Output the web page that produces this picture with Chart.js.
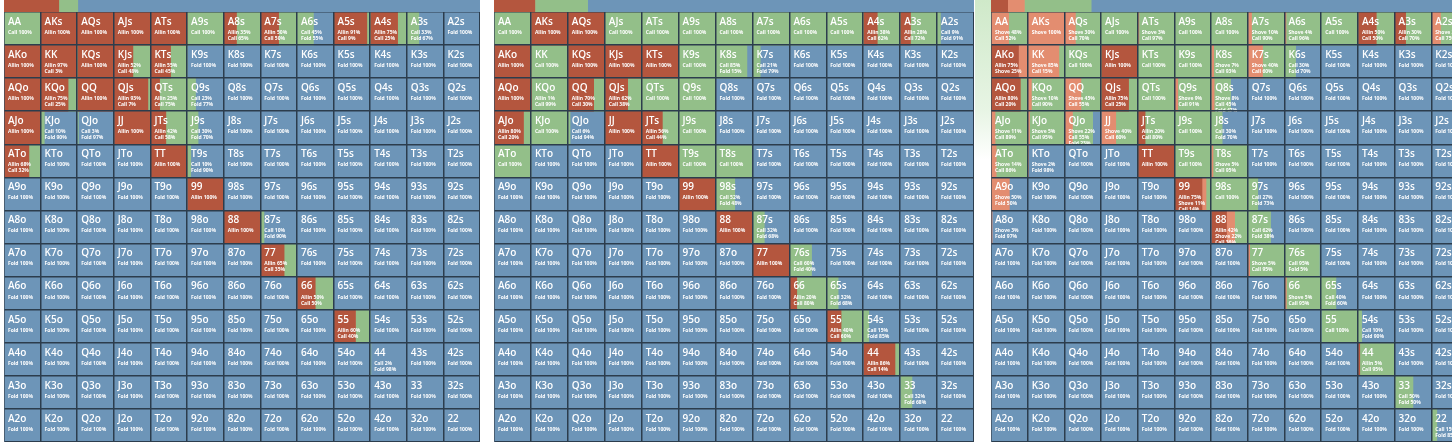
<!DOCTYPE html>
<html><head><meta charset="utf-8">
<script src="https://cdn.jsdelivr.net/npm/chart.js@4/dist/chart.umd.min.js"></script>
<style>
body{margin:0;background:#fff;width:1452px;height:442px;overflow:hidden;position:relative;font-family:"Open Sans",sans-serif}
.p{position:absolute;overflow:hidden}
</style></head><body>
<div class="p" style="left:4px;top:0;width:476px;height:12px"><canvas id="s1"></canvas></div>
<div class="p" style="left:4px;top:12px;width:476px;height:430px"><canvas id="c1"></canvas></div>
<div class="p" style="left:494px;top:0;width:480px;height:12px"><canvas id="s2"></canvas></div>
<div class="p" style="left:494px;top:12px;width:480px;height:430px"><canvas id="c2"></canvas></div>
<div class="p" style="left:975px;top:0;width:16px;height:160px;background:linear-gradient(#cfe9c9,#e8f5e5 70%,#fff)"></div>
<div class="p" style="left:991px;top:0;width:461px;height:12px"><div style="width:477px;height:12px"><canvas id="s3"></canvas></div></div>
<div class="p" style="left:991px;top:12px;width:461px;height:430px"><div style="width:477px;height:430px"><canvas id="c3"></canvas></div></div>
<script>
const ranks = ["A","K","Q","J","T","9","8","7","6","5","4","3","2"];
const actions = ["Allin","Shove","Call","Fold"];
const actionColors = ["#b4563e","#e38d70","#93bf89","#6d95b8"];
// hand: [allin%, shove%, call%]  (fold = rest)
const mix1 = {AA:[0,0,100],AKs:[100,0,0],AQs:[100,0,0],AJs:[100,0,0],ATs:[100,0,0],A9s:[0,0,100],A8s:[35,0,65],A7s:[50,0,50],A6s:[0,0,45],A5s:[91,0,9],A4s:[75,0,25],A3s:[0,0,33],
AKo:[100,0,0],KK:[97,0,3],KQs:[100,0,0],KJs:[52,0,48],KTs:[55,0,45],
AQo:[100,0,0],KQo:[75,0,25],QQ:[100,0,0],QJs:[93,0,7],QTs:[25,0,75],Q9s:[0,0,23],
AJo:[100,0,0],KJo:[0,0,10],QJo:[0,0,3],JJ:[100,0,0],JTs:[42,0,58],J9s:[0,0,30],
ATo:[68,0,32],TT:[100,0,0],T9s:[0,0,10],"99":[100,0,0],"88":[100,0,0],"87s":[0,0,10],"77":[65,0,35],"66":[50,0,50],"55":[60,0,40],"44":[0,0,2]};
const mix2 = {AA:[0,0,100],AKs:[100,0,0],AQs:[100,0,0],AJs:[0,0,100],ATs:[0,0,100],A9s:[0,0,100],A8s:[0,0,100],A7s:[0,0,100],A6s:[0,0,100],A5s:[0,0,100],A4s:[38,0,62],A3s:[28,0,72],A2s:[0,0,9],
AKo:[100,0,0],KK:[0,0,100],KQs:[100,0,0],KJs:[100,0,0],KTs:[100,0,0],K9s:[0,0,100],K8s:[0,0,85],K7s:[0,0,21],
AQo:[100,0,0],KQo:[1,0,99],QQ:[70,0,30],QJs:[62,0,38],QTs:[0,0,100],Q9s:[0,0,100],
AJo:[80,0,20],KJo:[0,0,100],QJo:[0,0,6],JJ:[100,0,0],JTs:[56,0,44],J9s:[0,0,100],
ATo:[0,0,100],TT:[100,0,0],T9s:[0,0,100],T8s:[0,0,100],"99":[100,0,0],"98s":[0,0,52],"88":[100,0,0],"87s":[0,0,32],"77":[100,0,0],"76s":[0,0,60],
"66":[20,0,80],"65s":[0,0,32],"55":[40,0,60],"54s":[0,0,15],"44":[86,0,14],"33":[0,0,32]};
const mix3 = {AA:[0,48,52],AKs:[0,100,0],AQs:[0,30,70],AJs:[0,0,100],ATs:[0,3,97],A9s:[0,0,100],A8s:[0,0,100],A7s:[0,10,90],A6s:[0,4,96],A5s:[0,0,100],A4s:[50,0,50],A3s:[30,0,70],A2s:[0,25,75],
AKo:[75,25,0],KK:[0,85,15],KQs:[0,0,100],KJs:[100,0,0],KTs:[0,0,100],K9s:[0,0,100],K8s:[0,7,93],K7s:[0,40,60],K6s:[0,0,30],
AQo:[80,0,20],KQo:[0,10,90],QQ:[0,45,55],QJs:[75,0,25],QTs:[0,0,100],Q9s:[0,9,91],Q8s:[0,8,45],
AJo:[0,11,89],KJo:[0,5,95],QJo:[0,22,55],JJ:[0,40,60],JTs:[20,0,80],J9s:[0,0,100],J8s:[0,0,30],
ATo:[0,14,86],KTo:[0,2,0],TT:[100,0,0],T9s:[0,0,100],T8s:[0,5,95],
A9o:[0,50,0],"99":[75,11,14],"98s":[0,0,100],"97s":[0,0,27],A8o:[0,3,0],"88":[42,22,36],"87s":[0,0,62],
"77":[0,5,95],"76s":[0,0,95],"66":[0,5,95],"65s":[0,0,40],"55":[0,0,100],"54s":[0,0,10],"44":[5,0,95],"33":[0,0,50],"22":[0,0,15]};
// summary strip: [allin, shove, call, fold]
const strip1 = [11.5,0,4,84.5];
const strip2 = [8.5,0,11,80.5];
const strip3 = [3.5,3.5,14,79];

function handName(i,j){ if(i===j) return ranks[i]+ranks[j]; return j>i ? ranks[i]+ranks[j]+"s" : ranks[j]+ranks[i]+"o"; }
function getMix(mix,h){ const m = mix[h]||[0,0,0]; return [m[0],m[1],m[2],Math.max(0,100-m[0]-m[1]-m[2])]; }
const rowLabels = ranks.map((r,i)=>"r"+i);

const labelPlugin = {id:"lbl", afterDatasetsDraw(chart){
  const ctx=chart.ctx, xs=chart.scales.x, ys=chart.scales.y, mix=chart.options.plugins.lbl.mix;
  ctx.save(); ctx.fillStyle="#fff"; ctx.textBaseline="top";
  for(let i=0;i<13;i++) for(let j=0;j<13;j++){
    const h=handName(i,j), x=xs.getPixelForValue(j)+4, y=ys.getPixelForValue(i)-ys.height/26+5;
    ctx.font="600 10px 'Open Sans'"; ctx.fillText(h,x,y);
    const m=getMix(mix,h); ctx.font="bold 5px 'Open Sans'"; let k=0;
    m.forEach((v,a)=>{ if(v>0&&k<3){ ctx.fillText(actions[a]+" "+v+"%",x,y+13+k*6); k++; } });
  }
  ctx.restore();
}};

function grid(id,mix){
  const datasets=[];
  for(let c=0;c<13;c++) for(let a=0;a<4;a++){
    const data=[];
    for(let r=0;r<13;r++){
      const m=getMix(mix,handName(r,c)); let s=0; for(let k=0;k<a;k++) s+=m[k];
      data.push(m[a]>0 ? [c+s/100, c+(s+m[a])/100] : null);
    }
    datasets.push({data,backgroundColor:actionColors[a],borderWidth:0,grouped:false,barPercentage:1,categoryPercentage:1});
  }
  new Chart(document.getElementById(id),{type:"bar",data:{labels:rowLabels,datasets},plugins:[labelPlugin],
    options:{indexAxis:"y",responsive:true,maintainAspectRatio:false,animation:false,layout:{padding:0},
      plugins:{legend:{display:false},tooltip:{enabled:false},lbl:{mix}},
      scales:{x:{type:"linear",min:0,max:13,ticks:{display:false,stepSize:1},grid:{color:"#2c3d4d",lineWidth:1.5,drawTicks:false,z:1},border:{color:"#2c3d4d",width:1.5}},
              y:{ticks:{display:false},grid:{color:"#2c3d4d",lineWidth:1.5,drawTicks:false,offset:true,z:1},border:{color:"#2c3d4d",width:1.5}}}}});
}
function strip(id,vals){
  new Chart(document.getElementById(id),{type:"bar",data:{labels:["all"],datasets:vals.map((v,a)=>({data:[v],backgroundColor:actionColors[a],borderWidth:0,barPercentage:1,categoryPercentage:1}))},
    options:{indexAxis:"y",responsive:true,maintainAspectRatio:false,animation:false,layout:{padding:0},
      plugins:{legend:{display:false},tooltip:{enabled:false}},
      scales:{x:{stacked:true,min:0,max:100,display:false},y:{stacked:true,display:false}}}});
}
grid("c1",mix1); grid("c2",mix2); grid("c3",mix3);
strip("s1",strip1); strip("s2",strip2); strip("s3",strip3);
</script></body></html>
